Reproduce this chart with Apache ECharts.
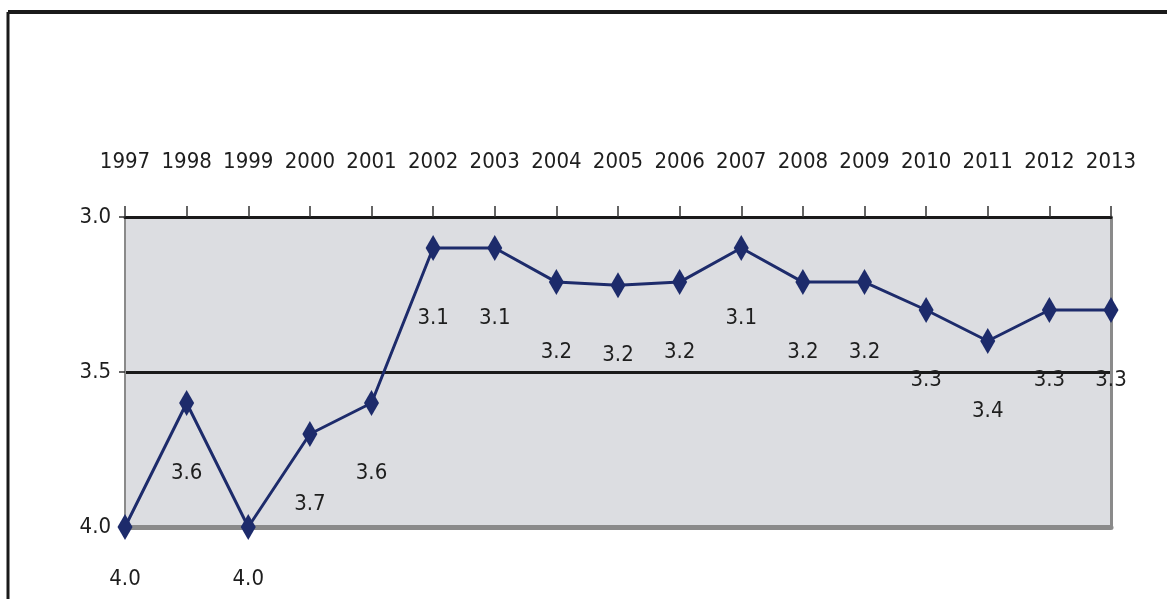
<!DOCTYPE html>
<html>
<head>
<meta charset="utf-8">
<script src="https://cdn.jsdelivr.net/npm/echarts@6/dist/echarts.min.js"></script>
<style>
html,body{margin:0;padding:0;background:#fff;}
#chart{width:1167px;height:599px;}
</style>
</head>
<body>
<div id="chart"></div>
<script>
const years = ['1997','1998','1999','2000','2001','2002','2003','2004','2005','2006','2007','2008','2009','2010','2011','2012','2013'];
const values = [4.0, 3.6, 4.0, 3.7, 3.6, 3.1, 3.1, 3.21, 3.22, 3.21, 3.1, 3.21, 3.21, 3.3, 3.4, 3.3, 3.3];
const yTicks = [3.0, 3.5, 4.0];

const FONT = "'Liberation Sans Narrow', 'DejaVu Sans Condensed', 'DejaVu Sans', sans-serif";
const NAVY = '#1d2b6b';

const chart = echarts.init(document.getElementById('chart'));
chart.setOption({
  animation: false,
  backgroundColor: '#ffffff',
  graphic: [
    { type: 'line', shape: { x1: 8, y1: 12, x2: 1167, y2: 12 }, style: { stroke: '#1a1a1a', lineWidth: 4 } },
    { type: 'line', shape: { x1: 8, y1: 12, x2: 8, y2: 599 }, style: { stroke: '#1a1a1a', lineWidth: 3 } }
  ],
  grid: {
    left: 125, right: 56, top: 217, bottom: 72,
    show: true, backgroundColor: '#dcdde1', borderWidth: 0
  },
  xAxis: [{
    type: 'category',
    position: 'top',
    data: years,
    boundaryGap: false,
    axisLine: { show: true, lineStyle: { color: '#1a1a1a', width: 3 } },
    axisTick: { show: true, interval: 0, length: 11, lineStyle: { color: '#333', width: 1.5 } },
    axisLabel: { interval: 0, margin: 44, fontFamily: FONT, fontSize: 22, color: '#1e1e1e' },
    splitLine: { show: false }
  }, {
    type: 'category',
    position: 'bottom',
    data: years,
    boundaryGap: false,
    axisLine: { show: true, lineStyle: { color: '#8a8a8a', width: 5 } },
    axisTick: { show: false },
    axisLabel: { show: false }
  }],
  yAxis: [{
    type: 'value',
    inverse: true,
    min: 3.0, max: 4.0, interval: 0.5,
    axisLine: { show: true, lineStyle: { color: '#8a8a8a', width: 2 } },
    axisTick: { show: true, length: 6, lineStyle: { color: '#333', width: 1.5 } },
    axisLabel: {
      margin: 14, fontFamily: FONT, fontSize: 22, color: '#1e1e1e',
      formatter: v => yTicks.includes(Math.round(v * 10) / 10) ? v.toFixed(1) : ''
    },
    splitLine: { show: true, lineStyle: { color: ['#1a1a1a', '#1a1a1a', 'rgba(0,0,0,0)'], width: 3 } }
  }, {
    type: 'value',
    inverse: true,
    position: 'right',
    min: 3.0, max: 4.0, interval: 0.5,
    axisLine: { show: true, lineStyle: { color: '#8a8a8a', width: 3 } },
    axisTick: { show: false },
    axisLabel: { show: false },
    splitLine: { show: false }
  }],
  series: [{
    type: 'line',
    data: values.map(v => ({
      value: v,
      label: v >= 3.95 ? { distance: 28 } : undefined
    })),
    symbol: 'diamond',
    symbolSize: [15, 26],
    itemStyle: { color: NAVY },
    lineStyle: { color: NAVY, width: 3 },
    label: {
      show: true,
      position: 'bottom',
      distance: 46,
      fontFamily: FONT,
      fontSize: 22,
      color: '#1e1e1e',
      formatter: p => Number(p.value).toFixed(1)
    },
    z: 5
  }]
});
</script>
</body>
</html>
